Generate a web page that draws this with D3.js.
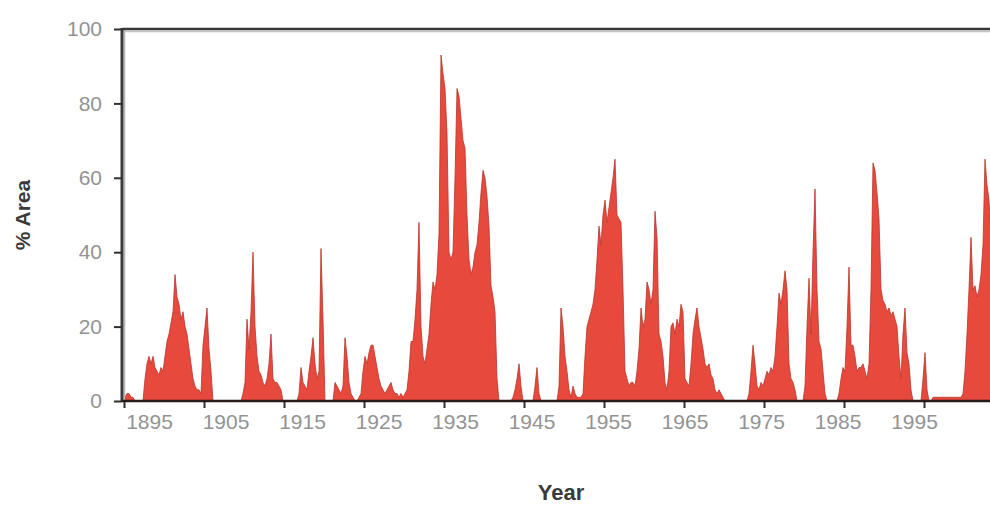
<!DOCTYPE html>
<html>
<head>
<meta charset="utf-8">
<script src="https://cdn.jsdelivr.net/npm/d3@7/dist/d3.min.js"></script>
<style>
  body { margin: 0; background: #fff; }
  svg { display: block; }
</style>
</head>
<body>
<script>
// first year of the series; four values per year (quarters)
var startYear = 1895;
var areaPct = [
  1, 2, 2, 1,     // 1895
  1, 0, 0, 0,
  0, 0, 6, 10,
  12, 10, 12, 9,
  8, 7, 9, 8,
  12, 16, 18, 21, // 1900
  24, 34, 28, 26,
  22, 24, 20, 18,
  14, 10, 6, 4,
  3, 3, 2, 15,
  20, 25, 14, 8,  // 1905
  0, 0, 0, 0,
  0, 0, 0, 0,
  0, 0, 0, 0,
  0, 0, 0, 2,
  5, 22, 14, 24,  // 1910
  40, 20, 12, 8,
  7, 5, 4, 6,
  10, 18, 6, 5,
  5, 4, 3, 0,
  0, 0, 0, 0,     // 1915
  0, 0, 0, 2,
  9, 5, 4, 3,
  8, 12, 17, 10,
  6, 8, 41, 22,
  0, 0, 0, 0,     // 1920
  0, 5, 4, 3,
  2, 4, 17, 12,
  5, 2, 1, 0,
  0, 1, 2, 8,
  12, 10, 13, 15, // 1925
  15, 12, 9, 6,
  4, 3, 2, 3,
  4, 5, 3, 2,
  2, 1, 2, 1,
  2, 3, 8, 16,    // 1930
  16, 22, 30, 48,
  20, 12, 10, 14,
  18, 26, 32, 30,
  34, 45, 93, 88,
  84, 72, 40, 38, // 1935
  40, 60, 84, 82,
  76, 70, 68, 50,
  38, 34, 36, 40,
  42, 48, 56, 62,
  60, 55, 47, 31, // 1940
  28, 24, 6, 0,
  0, 0, 0, 0,
  0, 0, 1, 3,
  6, 10, 4, 0,
  0, 0, 0, 0,     // 1945
  0, 4, 9, 2,
  0, 0, 0, 0,
  0, 0, 0, 0,
  0, 4, 25, 20,
  12, 8, 3, 1,    // 1950
  4, 2, 1, 1,
  1, 2, 12, 20,
  22, 24, 26, 30,
  38, 47, 42, 50,
  54, 48, 52, 56, // 1955
  60, 65, 50, 49,
  48, 30, 8, 6,
  4, 5, 5, 4,
  8, 14, 25, 20,
  22, 32, 30, 26, // 1960
  30, 51, 44, 18,
  16, 12, 5, 3,
  8, 20, 21, 18,
  22, 20, 26, 24,
  6, 5, 4, 10,    // 1965
  18, 22, 25, 20,
  17, 14, 10, 9,
  10, 7, 6, 3,
  2, 3, 2, 1,
  0, 0, 0, 0,     // 1970
  0, 0, 0, 0,
  0, 0, 0, 0,
  2, 8, 15, 10,
  4, 3, 5, 4,
  6, 8, 7, 9,     // 1975
  8, 12, 20, 29,
  26, 30, 35, 30,
  10, 6, 5, 3,
  0, 0, 0, 0,
  4, 20, 33, 18,  // 1980
  40, 57, 30, 16,
  14, 8, 2, 0,
  0, 0, 0, 0,
  0, 2, 6, 9,
  8, 20, 36, 15,  // 1985
  15, 12, 8, 9,
  9, 10, 8, 6,
  10, 30, 64, 62,
  56, 49, 30, 27,
  26, 24, 25, 23, // 1990
  24, 22, 20, 12,
  6, 18, 25, 13,
  10, 3, 0, 0,
  0, 0, 0, 6,
  13, 3, 0, 0,    // 1995
  1, 1, 1, 1,
  1, 1, 1, 1,
  1, 1, 1, 1,
  1, 1, 1, 2,
  8, 18, 30, 44,  // 2000
  30, 31, 28, 30,
  34, 42, 65, 58,
  54, 45
];
var yTicks = [0, 20, 40, 60, 80, 100];
var xTickYears = [1895, 1905, 1915, 1925, 1935, 1945, 1955, 1965, 1975, 1985, 1995];
var xTitle = 'Year';
var yTitle = '% Area';

var width = 990, height = 506;
var plotLeft = 122, plotTop = 29, plotBottom = 401;

var svg = d3.select('body').append('svg')
  .attr('width', width)
  .attr('height', height);

// 8 px per year, plot runs past the right edge of the picture
var x = d3.scaleLinear()
  .domain([1894.75, 2006])
  .range([plotLeft, plotLeft + (2006 - 1894.75) * 8]);

// the year labels in the figure sit on their own, slightly tighter spacing
var xLabel = d3.scaleLinear()
  .domain([1895, 1995])
  .range([149, 914]);

var y = d3.scaleLinear()
  .domain([0, 100])
  .range([plotBottom, plotTop]);

var points = areaPct.map(function(v, i) {
  return { t: startYear + i / 4 + 0.125, v: v };
});

svg.append('clipPath').attr('id', 'plot')
  .append('rect')
  .attr('x', plotLeft)
  .attr('y', plotTop)
  .attr('width', width - plotLeft)
  .attr('height', plotBottom - plotTop);

var area = d3.area()
  .x(function(d) { return x(d.t); })
  .y0(y(0))
  .y1(function(d) { return y(d.v); });

svg.append('path')
  .datum(points)
  .attr('clip-path', 'url(#plot)')
  .attr('d', area)
  .style('fill', '#e8493d')
  .style('stroke', '#b9332b')
  .style('stroke-width', 0.8);

// frame
svg.append('line')
  .attr('x1', plotLeft + 2.5).attr('x2', plotLeft + 2.5)
  .attr('y1', plotTop).attr('y2', plotBottom)
  .style('stroke', '#b5b5b5').style('stroke-width', 1.5);
svg.append('line')
  .attr('x1', plotLeft).attr('x2', width)
  .attr('y1', plotTop + 2.5).attr('y2', plotTop + 2.5)
  .style('stroke', '#c4c4c4').style('stroke-width', 1.5);
svg.append('line')
  .attr('x1', plotLeft).attr('x2', width)
  .attr('y1', plotTop).attr('y2', plotTop)
  .style('stroke', '#383838').style('stroke-width', 2.5);
svg.append('line')
  .attr('x1', plotLeft).attr('x2', plotLeft)
  .attr('y1', plotTop - 1).attr('y2', plotBottom + 1)
  .style('stroke', '#3c3c3c').style('stroke-width', 3);

var yAxis = svg.append('g')
  .attr('transform', 'translate(' + plotLeft + ',0)')
  .call(d3.axisLeft(y).tickValues(yTicks).tickSize(8).tickPadding(12));

// tick marks on the year scale
var xAxis = svg.append('g')
  .attr('transform', 'translate(0,' + plotBottom + ')')
  .call(d3.axisBottom(x).tickValues(xTickYears).tickSize(7).tickFormat(''));

// year labels
var xLabels = svg.append('g')
  .attr('transform', 'translate(0,' + plotBottom + ')')
  .call(d3.axisBottom(xLabel).tickValues(xTickYears).tickSize(0).tickPadding(13)
    .tickFormat(d3.format('d')));
xLabels.selectAll('.tick line').remove();

svg.selectAll('.domain').remove();

svg.selectAll('.tick line')
  .style('stroke', '#2f2f2f')
  .style('stroke-width', 2);

svg.selectAll('.tick text')
  .style('font-family', 'Liberation Sans, Arial, sans-serif')
  .style('font-size', '21px')
  .style('fill', '#939393');

// zero line over the area
svg.append('line')
  .attr('x1', plotLeft).attr('x2', width)
  .attr('y1', y(0)).attr('y2', y(0))
  .style('stroke', '#2a1a18').style('stroke-width', 2.5);

svg.append('text')
  .attr('transform', 'translate(561,500)')
  .style('text-anchor', 'middle')
  .style('font-family', 'Liberation Sans, Arial, sans-serif')
  .style('font-weight', 'bold')
  .style('font-size', '22px')
  .style('fill', '#3a3a3a')
  .text(xTitle);

svg.append('text')
  .attr('transform', 'translate(30,' + ((plotTop + plotBottom) / 2) + ') rotate(-90)')
  .style('text-anchor', 'middle')
  .style('font-family', 'Liberation Sans, Arial, sans-serif')
  .style('font-weight', 'bold')
  .style('font-size', '21px')
  .style('fill', '#3a3a3a')
  .text(yTitle);
</script>
</body>
</html>
